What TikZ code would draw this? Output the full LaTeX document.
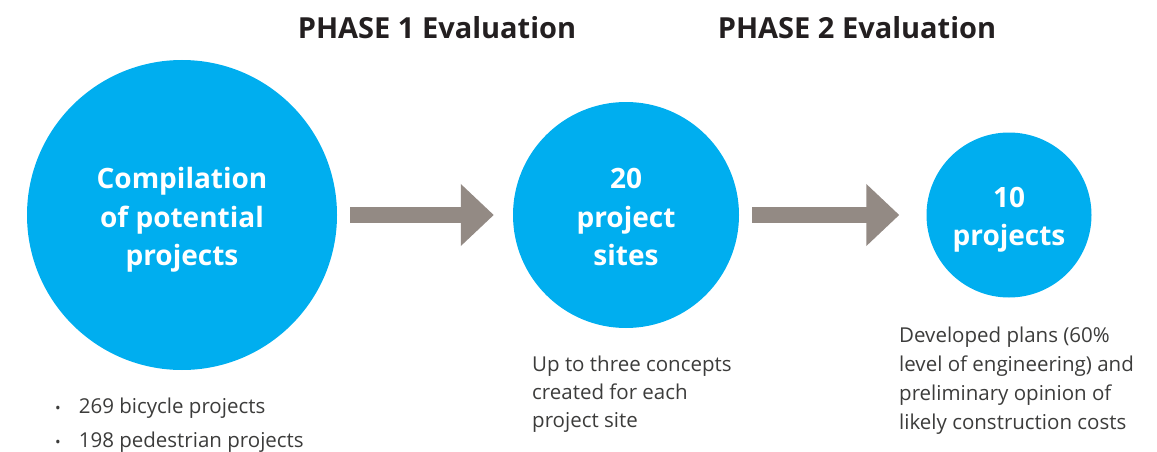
\documentclass[tikz,border=0pt]{standalone}
\usepackage{fontspec}
\setmainfont{Open Sans}
\usepackage{tikz}
\usetikzlibrary{arrows.meta,positioning}
\usepackage{xcolor}
\definecolor{stagefill}{HTML}{00AEEF}
\definecolor{flowgrey}{HTML}{938A84}
\definecolor{notetext}{HTML}{3C3C3B}
\definecolor{headtext}{HTML}{231F20}
\tikzset{
    heading/.style={
        font=\fontsize{29}{35}\selectfont\bfseries,
        text=headtext,
        inner sep=0pt
    },
    stage/.style={
        circle,
        fill=stagefill,
        text=white,
        align=center,
        inner sep=0pt,
        font=\fontsize{28}{38.5}\selectfont\bfseries
    },
    flow/.style={
        -{Triangle[length=33pt,width=60pt]},
        line width=16pt,
        color=flowgrey
    },
    note/.style={
        font=\fontsize{20.5}{28.5}\selectfont,
        text=notetext,
        align=left,
        anchor=north west,
        inner sep=0pt
    }
}

% hauteur de la première ligne dans les cercles
\newcommand{\haut}[1]{\rule{0pt}{#1}}
\newcommand{\puce}{{\fontsize{15}{15}\selectfont\textbullet}\hspace{18pt}}

\begin{document}
\begin{tikzpicture}[x=1pt,y=-1pt]

    \useasboundingbox (0,0) rectangle (1157,452);

    % Titres
    \node[heading]
        (phase1) at (437,28)
        {PHASE 1 Evaluation};

    \node[heading]
        (phase2) at (857,28)
        {PHASE 2 Evaluation};

    % Cercles
    \node[
        stage,
        minimum size=310pt
    ]
        (c1) at (182,215)
        {\haut{31pt}Compilation\\of potential\\projects};

    \node[
        stage,
        minimum size=226pt
    ]
        (c2) at (626,215)
        {\haut{25pt}20\\project\\sites};

    \node[
        stage,
        minimum size=165pt
    ]
        (c3) at (1009,215)
        {\haut{30pt}10\\projects};

    % Flèches
    \draw[flow]
        ([xshift=13pt]c1.east)
        -- ([xshift=-19pt]c2.west);

    \draw[flow]
        ([xshift=13pt]c2.east)
        -- ([xshift=-27pt]c3.west);

    % Liste sous le premier cercle
    \node[note]
        (b1) at (55,398)
        {\puce 269 bicycle projects};

    \node[note]
        (b2) at (55,432)
        {\puce 198 pedestrian projects};

    % Notes sous les cercles
    \node[
        note,
        font=\fontsize{20.5}{28}\selectfont
    ]
        (n2) at (532,356)
        {Up to three concepts\\created for each\\project site};

    \node[
        note,
        font=\fontsize{20.5}{29}\selectfont
    ]
        (n3) at (899,327)
        {Developed plans (60\%\\level of engineering) and\\preliminary opinion of\\likely construction costs};

\end{tikzpicture}
\end{document}
